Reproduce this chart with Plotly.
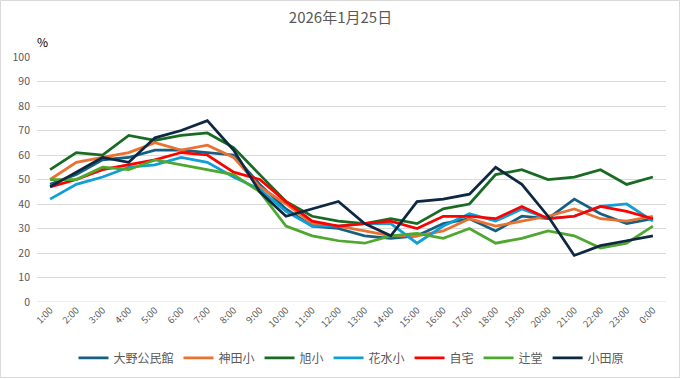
import plotly.graph_objects as go

hours = ["1:00","2:00","3:00","4:00","5:00","6:00","7:00","8:00","9:00","10:00","11:00","12:00",
         "13:00","14:00","15:00","16:00","17:00","18:00","19:00","20:00","21:00","22:00","23:00","0:00"]

ono = [48, 52, 58, 59, 62, 62, 61, 60, 48, 38, 31, 30, 27, 26, 27, 32, 34, 29, 35, 34, 42, 36, 32, 34]
kanda = [50, 57, 59, 61, 65, 62, 64, 59, 47, 40, 32, 31, 29, 27, 27, 29, 34, 31, 33, 35, 38, 34, 33, 35]
asahi = [54, 61, 60, 68, 66, 68, 69, 63, 52, 41, 35, 33, 32, 34, 32, 38, 40, 52, 54, 50, 51, 54, 48, 51]
hanamizu = [42, 48, 51, 55, 56, 59, 57, 51, 46, 37, 31, 31, 32, 32, 24, 31, 36, 33, 38, 34, 35, 39, 40, 33]
jitaku = [47, 50, 54, 56, 58, 61, 60, 53, 50, 41, 33, 31, 32, 33, 30, 35, 35, 34, 39, 34, 35, 39, 37, 34]
tsujido = [50, 50, 55, 54, 58, 56, 54, 52, 45, 31, 27, 25, 24, 27, 28, 26, 30, 24, 26, 29, 27, 22, 24, 31]
odawara = [47, 53, 59, 57, 67, 70, 74, 62, 45, 35, 38, 41, 32, 27, 41, 42, 44, 55, 48, 35, 19, 23, 25, 27]

names = ["大野公民館", "神田小", "旭小", "花水小", "自宅", "辻堂", "小田原"]
series = [ono, kanda, asahi, hanamizu, jitaku, tsujido, odawara]
colors = ["#156082", "#E97132", "#196B24", "#0F9ED5", "#FF0000", "#4EA72E", "#0E2841"]

FONT = "Noto Sans CJK JP, Noto Sans, sans-serif"

fig = go.Figure()
for n, s, c in zip(names, series, colors):
    fig.add_trace(go.Scatter(x=hours, y=s, name=n, mode="lines",
                             line=dict(color=c, width=2.75)))

fig.update_layout(
    width=681, height=379,
    margin=dict(l=37, r=15, t=57, b=77, autoexpand=False),
    paper_bgcolor="white", plot_bgcolor="white",
    font=dict(family=FONT, color="#595959"),
    title=dict(text="2026年1月25日", x=0.5, xanchor="center", y=0.952, yanchor="middle",
               font=dict(size=15, color="#595959", family=FONT)),
    showlegend=True,
    legend=dict(orientation="h", x=0.5, xanchor="center", y=-0.228, yanchor="middle",
                font=dict(size=12, color="#595959"), itemwidth=30, tracegroupgap=0),
    xaxis=dict(type="category", range=[-0.5, 23.5], showgrid=False, zeroline=False,
               tickangle=-45, tickfont=dict(size=9.5, color="#595959"), ticks="",
               showline=False),
    yaxis=dict(range=[0, 100], dtick=10, showgrid=True, gridcolor="#D9D9D9", gridwidth=1,
               zeroline=False, ticks="", tickfont=dict(size=10.5, color="#595959"),
               ticklabelstandoff=6, showline=False),
    annotations=[dict(text="%", xref="paper", yref="paper", x=0.0, y=1.0, xanchor="left",
                      yanchor="bottom", yshift=5, xshift=-2, showarrow=False,
                      font=dict(size=12, color="#000000"))],
    shapes=[dict(type="rect", xref="paper", yref="paper", x0=-36.5/629, x1=1+13.5/629,
                 y0=-75.5/245, y1=1+56.5/245, line=dict(color="#D9D9D9", width=1))],
)
fig.add_shape(type="line", xref="paper", yref="y", x0=0, x1=1, y0=0, y1=0,
              line=dict(color="#D9D9D9", width=1), layer="below")

fig.write_html("out.html", config={"displayModeBar": False},
               post_script="document.body.style.margin='0px';")
